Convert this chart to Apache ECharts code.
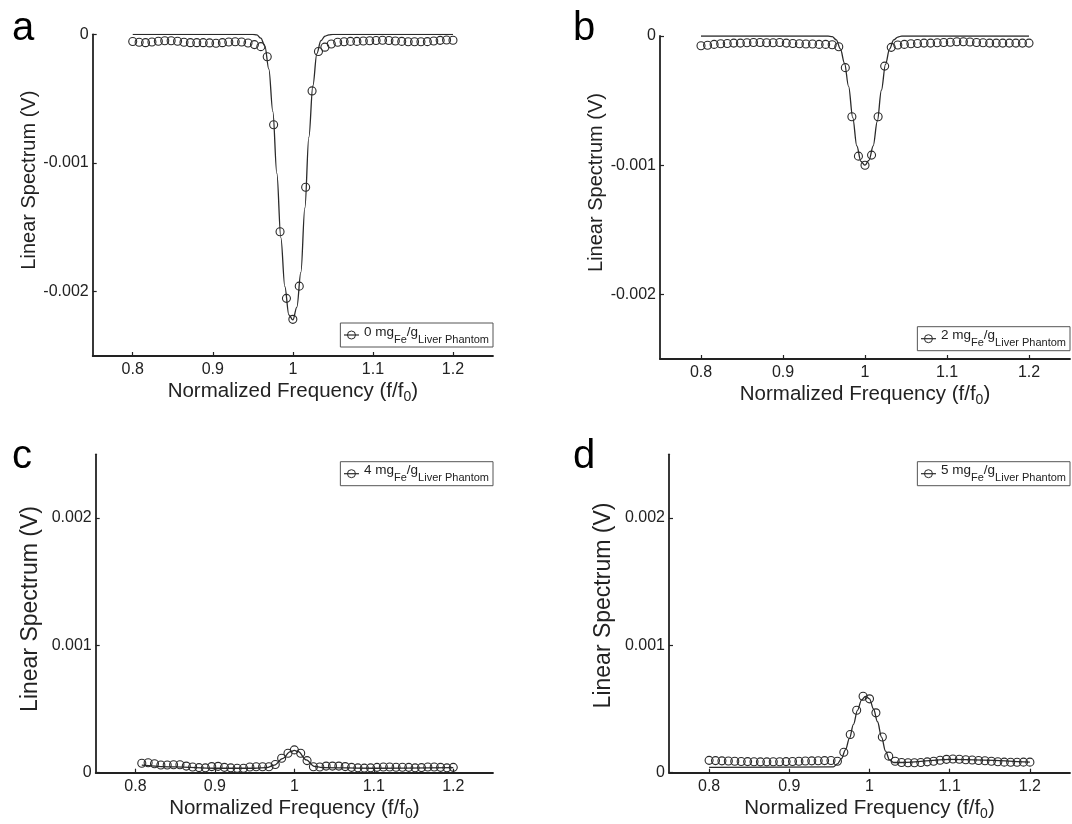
<!DOCTYPE html>
<html>
<head>
<meta charset="utf-8">
<script src="https://cdn.jsdelivr.net/npm/echarts@6/dist/echarts.min.js"></script>
<style>
  html, body { margin: 0; padding: 0; background: #fff; }
  #chart { width: 1072px; height: 824px; }
</style>
</head>
<body>
<div id="chart"></div>
<script>
// ---------------- DATA ----------------
const freq = [0.800,0.808,0.816,0.824,0.832,0.840,0.848,0.856,0.864,0.872,
  0.880,0.888,0.896,0.904,0.912,0.920,0.928,0.936,0.944,0.952,
  0.960,0.968,0.976,0.984,0.992,1.000,1.008,1.016,1.024,1.032,
  1.040,1.048,1.056,1.064,1.072,1.080,1.088,1.096,1.104,1.112,
  1.120,1.128,1.136,1.144,1.152,1.160,1.168,1.176,1.184,1.192,1.200];

// panel a: 0 mg Fe / g
const measA = [-0.000056,-0.000062,-0.000065,-0.000060,-0.000054,-0.000050,-0.000050,-0.000054,-0.000062,-0.000065,
  -0.000065,-0.000065,-0.000067,-0.000070,-0.000065,-0.000060,-0.000058,-0.000060,-0.000068,-0.000080,
  -0.000096,-0.000174,-0.000703,-0.001535,-0.002052,-0.002215,-0.001957,-0.001189,-0.000440,-0.000134,
  -0.000100,-0.000075,-0.000062,-0.000058,-0.000055,-0.000055,-0.000052,-0.000050,-0.000048,-0.000046,
  -0.000048,-0.000052,-0.000055,-0.000058,-0.000058,-0.000058,-0.000057,-0.000052,-0.000047,-0.000044,-0.000046];
const fitAx = [0.8,0.95,0.955,0.96,0.965,0.97,0.975,0.98,0.985,0.99,0.995,1.0,1.005,1.01,1.015,1.02,1.025,1.03,1.035,1.04,1.045,1.05,1.2];
const fitAy = [0,0,-0.000005,-0.00003,-0.00009,-0.00027,-0.00060,-0.00108,-0.00158,-0.00196,-0.00218,-0.00222,-0.00212,-0.00185,-0.00135,-0.00080,-0.00040,-0.00015,-0.00005,-0.000015,-0.000004,0,0];

// panel b: 2 mg Fe / g
const measB = [-0.000075,-0.000072,-0.000065,-0.000060,-0.000058,-0.000055,-0.000055,-0.000052,-0.000050,-0.000050,
  -0.000052,-0.000052,-0.000050,-0.000055,-0.000058,-0.000060,-0.000062,-0.000062,-0.000065,-0.000065,
  -0.000068,-0.000083,-0.000245,-0.000625,-0.000930,-0.001000,-0.000922,-0.000625,-0.000233,-0.000088,
  -0.000070,-0.000065,-0.000060,-0.000058,-0.000055,-0.000055,-0.000052,-0.000050,-0.000048,-0.000045,
  -0.000045,-0.000047,-0.000050,-0.000052,-0.000055,-0.000055,-0.000055,-0.000055,-0.000055,-0.000055,-0.000055];
const fitBx = [0.8,0.955,0.96,0.965,0.97,0.975,0.98,0.985,0.99,0.995,1.0,1.005,1.01,1.015,1.02,1.025,1.03,1.035,1.04,1.045,1.2];
const fitBy = [0,0,-0.000005,-0.00003,-0.0001,-0.00021,-0.00039,-0.00063,-0.00085,-0.00097,-0.001,-0.00096,-0.00085,-0.00066,-0.00042,-0.00022,-0.0001,-0.00003,-0.000008,0,0];

// panel c: 4 mg Fe / g (first point at 0.808)
const freqC = freq.slice(1);
const measC = [0.000074,0.000078,0.000070,0.000060,0.000060,0.000063,0.000062,0.000052,0.000045,0.000040,
  0.000038,0.000048,0.000050,0.000042,0.000038,0.000035,0.000035,0.000045,0.000047,0.000047,
  0.000047,0.000064,0.000113,0.000153,0.000179,0.000153,0.000095,0.000047,0.000045,0.000052,
  0.000052,0.000052,0.000048,0.000042,0.000038,0.000036,0.000038,0.000042,0.000045,0.000045,
  0.000043,0.000043,0.000042,0.000038,0.000040,0.000045,0.000045,0.000042,0.000038,0.000042];
const fitCx = [0.808,0.85,0.9,0.95,0.965,0.975,0.985,0.995,1.0,1.005,1.015,1.025,1.035,1.1,1.2];
const fitCy = [0.00006,0.000045,0.000035,0.000035,0.00004,0.00006,0.00011,0.000165,0.000175,0.000165,0.0001,0.00005,0.00004,0.000035,0.00004];

// panel d: 5 mg Fe / g
const measD = [0.000097,0.000095,0.000093,0.000092,0.000090,0.000088,0.000087,0.000086,0.000085,0.000085,
  0.000086,0.000086,0.000087,0.000088,0.000090,0.000092,0.000093,0.000094,0.000095,0.000096,
  0.000090,0.000160,0.000300,0.000490,0.000600,0.000580,0.000470,0.000280,0.000130,0.000090,
  0.000080,0.000078,0.000078,0.000080,0.000085,0.000090,0.000098,0.000105,0.000108,0.000106,
  0.000102,0.000100,0.000096,0.000094,0.000090,0.000086,0.000083,0.000082,0.000082,0.000083,0.000083];
const fitDx = [0.8,0.955,0.96,0.965,0.97,0.975,0.98,0.985,0.99,0.995,1.0,1.005,1.01,1.015,1.02,1.025,1.03,1.04,1.1,1.2];
const fitDy = [0.000042,0.000045,0.00007,0.00011,0.00018,0.00027,0.00038,0.00049,0.00057,0.0006,0.00058,0.0005,0.0004,0.00028,0.00017,0.0001,0.00008,0.00008,0.000105,0.000083];

const xTicks = [0.8,0.9,1.0,1.1,1.2];
const xTickLabels = ['0.8','0.9','1','1.1','1.2'];
const yTicksNeg = [-0.002,-0.001,0];
const yTickLabelsNeg = ['-0.002','-0.001','0'];
const yTicksPos = [0,0.001,0.002];
const yTickLabelsPos = ['0','0.001','0.002'];
const concentrations = ['0','2','4','5'];
const panelLetters = ['a','b','c','d'];
const xName = ['Normalized Frequency (f/f', '0', ')'];
const yName = 'Linear Spectrum (V)';

// ---------------- LAYOUT / STYLE ----------------
const FONT = "'Liberation Sans', Arial, Helvetica, sans-serif";
const INK = '#222';
const grids = [
  {left: 92.7, top: 34.3, width: 400.3, height: 321.7},
  {left: 660,  top: 36,   width: 410,   height: 323},
  {left: 95.7, top: 454.3, width: 397.3, height: 318.4},
  {left: 669,  top: 454.3, width: 401,   height: 318.4}
];
const yRanges = [[-0.0025,0],[-0.0025,0],[0,0.0025],[0,0.0025]];
const yNameSize = [20,20,23,23];
const yNameGap = [51,52,54,54];
const yNameShift = [30,30,9,16];
const legendPos = [
  {right: 579, top: 323},
  {right: 2, top: 326.7},
  {right: 579, top: 461.7},
  {right: 2, top: 461.7}
];
const letterPos = [[12,9],[573,9],[12,437],[573,437]];

function lookup(vals, labels) {
  return function (v) {
    for (let i = 0; i < vals.length; i++) {
      if (Math.abs(vals[i] - v) < 1e-9) return labels[i];
    }
    return '';
  };
}

const xAxes = [], yAxes = [], series = [], legends = [], graphics = [];
for (let i = 0; i < 4; i++) {
  xAxes.push({
    gridIndex: i, type: 'value', min: 0.75, max: 1.25,
    axisLine: {show: true, onZero: false, lineStyle: {color: INK, width: 1.8}},
    axisTick: {show: true, inside: true, length: 4, customValues: xTicks, lineStyle: {color: INK, width: 1.2}},
    axisLabel: {customValues: xTicks, formatter: lookup(xTicks, xTickLabels), margin: 6,
      fontSize: 16, color: INK, fontFamily: FONT},
    splitLine: {show: false},
    name: '{n|' + xName[0] + '}{s|' + xName[1] + '}{n|' + xName[2] + '}',
    nameLocation: 'middle', nameGap: 23,
    nameTextStyle: {
      rich: {
        n: {fontSize: 20.5, color: INK, fontFamily: FONT},
        s: {fontSize: 14, color: INK, fontFamily: FONT, padding: [11, 0, 0, 0]}
      }
    }
  });
  const neg = yRanges[i][0] < 0;
  const yt = neg ? yTicksNeg : yTicksPos;
  const ytl = neg ? yTickLabelsNeg : yTickLabelsPos;
  yAxes.push({
    gridIndex: i, type: 'value', min: yRanges[i][0], max: yRanges[i][1],
    axisLine: {show: true, onZero: false, lineStyle: {color: INK, width: 1.8}},
    axisTick: {show: true, inside: true, length: 4, customValues: yt, lineStyle: {color: INK, width: 1.2}},
    axisLabel: {customValues: yt, formatter: lookup(yt, ytl), margin: 4,
      fontSize: 16, color: INK, fontFamily: FONT},
    splitLine: {show: false},
    name: yName, nameLocation: 'middle', nameGap: yNameGap[i],
    nameTextStyle: {fontSize: yNameSize[i], color: INK, fontFamily: FONT,
      padding: [0, 0, 0, yNameShift[i]]}
  });
}

const measSets = [measA, measB, measC, measD];
const measX = [freq, freq, freqC, freq];
const fitX = [fitAx, fitBx, fitCx, fitDx];
const fitY = [fitAy, fitBy, fitCy, fitDy];
for (let i = 0; i < 4; i++) {
  const sname = 'meas' + i;
  series.push({
    name: 'fit' + i, type: 'line', xAxisIndex: i, yAxisIndex: i,
    data: fitX[i].map((x, j) => [x, fitY[i][j]]),
    showSymbol: false, smooth: 0.35, smoothMonotone: 'x',
    lineStyle: {color: '#2a2a2a', width: 1.3},
    silent: true, z: 2
  });
  series.push({
    name: sname, type: 'line', xAxisIndex: i, yAxisIndex: i,
    data: measX[i].map((x, j) => [x, measSets[i][j]]),
    symbol: 'circle', symbolSize: 8, showSymbol: true,
    lineStyle: {width: 0, opacity: 0},
    itemStyle: {color: 'rgba(255,255,255,0)', borderColor: '#2a2a2a', borderWidth: 1.1},
    silent: true, z: 3
  });
  legends.push(Object.assign({
    data: [sname], orient: 'horizontal', selectedMode: false,
    padding: [2, 4, 2, 3], itemWidth: 15, itemHeight: 10, itemGap: 0,
    borderColor: '#555', borderWidth: 1, backgroundColor: '#fff',
    lineStyle: {color: '#2a2a2a', width: 1.2, opacity: 1},
    itemStyle: {color: 'rgba(255,255,255,0)', borderColor: '#2a2a2a', borderWidth: 1},
    formatter: function () {
      return '{m|' + concentrations[i] + ' mg}{s|Fe}{m|/g}{s|Liver Phantom}';
    },
    textStyle: {
      rich: {
        m: {fontSize: 13.5, lineHeight: 15, color: INK, fontFamily: FONT, padding: [0, 0, 6, 0]},
        s: {fontSize: 11, lineHeight: 12, color: INK, fontFamily: FONT, padding: [9, 0, 0, 0]}
      }
    }
  }, legendPos[i]));
  graphics.push({
    type: 'text', left: letterPos[i][0], top: letterPos[i][1], silent: true,
    style: {text: panelLetters[i], font: '40px ' + FONT, fill: '#000'}
  });
}

const chart = echarts.init(document.getElementById('chart'), null, {renderer: 'canvas'});
chart.setOption({
  backgroundColor: '#fff',
  animation: false,
  grid: grids.map(g => Object.assign({containLabel: false}, g)),
  xAxis: xAxes,
  yAxis: yAxes,
  legend: legends,
  series: series,
  graphic: graphics
});
</script>
</body>
</html>
